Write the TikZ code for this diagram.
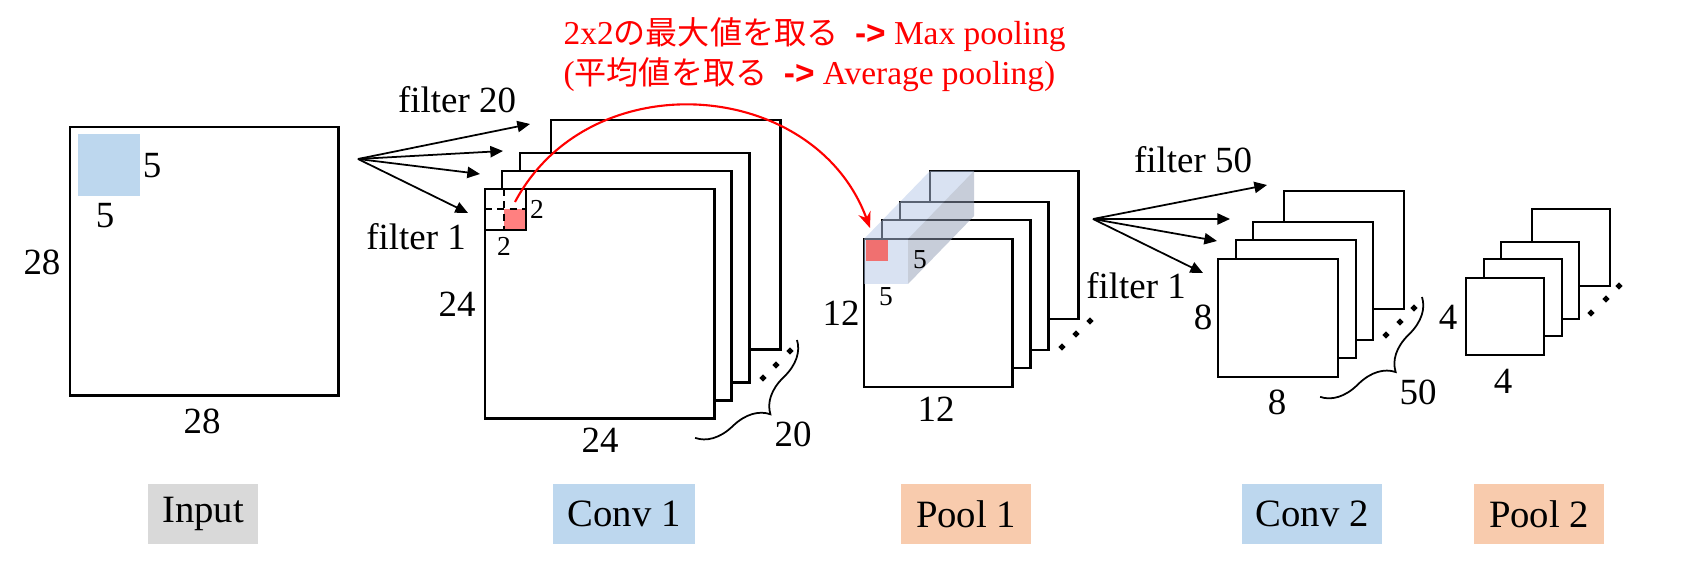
\documentclass[tikz,border=0pt]{standalone}
\usepackage{fontspec}
\setmainfont{Liberation Serif}
\newfontfamily\jpfont{Noto Sans CJK JP}[Scale=0.96]
\newfontfamily\arialfont{Liberation Sans}
\usetikzlibrary{arrows.meta,decorations.pathreplacing}
\definecolor{winblue}{RGB}{189,215,238}
\definecolor{poolorange}{RGB}{248,203,173}
\definecolor{inputgray}{RGB}{217,217,217}
\definecolor{maxred}{RGB}{255,128,128}
\definecolor{poolred}{RGB}{240,112,112}
\definecolor{cubeface}{RGB}{181,199,231}
\definecolor{cubeside}{RGB}{145,157,181}

\begin{document}
\begin{tikzpicture}[x=0.01cm,y=-0.01cm,>={Triangle[length=3.6pt,width=3.2pt]},
	fmap/.style={draw,line width=0.8pt,fill=white,inner sep=0,outer sep=0,anchor=north west},
	lbl/.style={font=\fontsize{10.5}{12}\selectfont,inner sep=1pt},
	slbl/.style={font=\fontsize{7.8}{9}\selectfont,inner sep=1pt},
	seqdot/.style={fill,inner sep=0,minimum size=0.05cm,rotate=45},
	redtxt/.style={red,anchor=base west,inner sep=0,font=\fontsize{9.5}{11}\selectfont},
	layertag/.style={font=\fontsize{11}{13}\selectfont,minimum height=0.59cm,inner sep=0},
	brc/.style={decorate,decoration={brace,amplitude=10pt},line width=0.5pt}]
		\useasboundingbox (0,0) rectangle (1687,561);
		% input
		\node[fmap,minimum size=2.68cm] (in) at (70,127) {};
		\fill[winblue] (78,134) rectangle (140,196);
		\node[lbl] (inl) at (42,262) {28};
		\node[lbl] (inb) at (202,421) {28};
		\node[lbl] (winr) at (152,166) {5};
		\node[lbl] (winb) at (105,216) {5};
		% conv 1
		\coordinate (src1) at (358,159);
		\coordinate (t1a) at (468,213);
		\coordinate (t1b) at (480,174);
		\coordinate (t1c) at (503,151);
		\coordinate (t1d) at (530,124);
		\path[->,line width=0.5pt]
		(src1) edge (t1a) edge (t1b) edge (t1c) edge (t1d);
		\node[fmap,minimum size=2.29cm] (c1d) at (551,120) {};
		\node[fmap,minimum size=2.29cm] (c1c) at (520,153) {};
		\node[fmap,minimum size=2.29cm] (c1b) at (502,171) {};
		\node[fmap,minimum size=2.29cm] (c1a) at (485,189) {};
		\fill[maxred] (504,209) rectangle (526,230);
		\draw[line width=0.5pt,dash pattern=on 2pt off 1.5pt] (485,209) -- (526,209) (504,189) -- (504,230);
		\draw[line width=0.6pt] (485,189) rectangle (526,230);
		\node[lbl] (f20) at (457,100) {filter 20};
		\node[lbl] (f1) at (416,237) {filter 1};
		\node[slbl] (c1wr) at (537,209) {2};
		\node[slbl] (c1wb) at (504,246) {2};
		\node[lbl] (c1l) at (457,304) {24};
		\node[lbl] (c1bt) at (600,440) {24};
		\node[seqdot] (c1p1) at (763,378) {};
		\node[seqdot] (c1p2) at (776,365) {};
		\node[seqdot] (c1p3) at (790,351) {};
		\draw[brc] (797,340) -- (695,438);
		\node[lbl] (c1n) at (793,434) {20};
		% pool 1
		\node[fmap,minimum size=1.48cm] (p1d) at (930,171) {};
		\node[fmap,minimum size=1.48cm] (p1c) at (900,202) {};
		\node[fmap,minimum size=1.48cm] (p1b) at (882,220) {};
		\node[fmap,minimum size=1.48cm] (p1a) at (864,239) {};
		\fill[cubeface,fill opacity=0.5] (864,239) -- (908,239) -- (974,171) -- (930,171) -- cycle;
		\fill[cubeside,fill opacity=0.5] (908,239) -- (908,284) -- (974,216) -- (974,171) -- cycle;
		\fill[cubeface,fill opacity=0.5] (864,239) rectangle (908,284);
		\fill[poolred] (866,240) rectangle (888,261);
		\node[slbl] (p1wr) at (920,260) {5};
		\node[slbl] (p1wb) at (886,297) {5};
		\node[lbl] (p1l) at (841,313) {12};
		\node[lbl] (p1bt) at (936,409) {12};
		\node[seqdot] (p1p1) at (1062,347) {};
		\node[seqdot] (p1p2) at (1076,334) {};
		\node[seqdot] (p1p3) at (1090,321) {};
		% max pooling
		\coordinate (rs) at (515,202);
		\coordinate (re) at (870,228);
		\draw[red,line width=0.6pt,-{Stealth[length=4.5pt,width=3.6pt]}] (rs) .. controls (590,61) and (815,78) .. (re);
		\node[redtxt] (mx) at (563,45) {2x2{\jpfont の最大値を取る}\ \ {\arialfont\bfseries ->} Max pooling};
		\node[redtxt] (av) at (563,85) {({\jpfont 平均値を取る}\ \ {\arialfont\bfseries ->} Average pooling)};
		% conv 2
		\coordinate (src2) at (1093,219);
		\coordinate (t2a) at (1203,273);
		\coordinate (t2b) at (1217,241);
		\coordinate (t2c) at (1230,219);
		\coordinate (t2d) at (1267,185);
		\path[->,line width=0.5pt]
		(src2) edge (t2a) edge (t2b) edge (t2c) edge (t2d);
		\node[fmap,minimum width=1.2cm,minimum height=1.18cm] (c2d) at (1284,191) {};
		\node[fmap,minimum width=1.2cm,minimum height=1.18cm] (c2c) at (1253,222) {};
		\node[fmap,minimum width=1.2cm,minimum height=1.18cm] (c2b) at (1236,240) {};
		\node[fmap,minimum width=1.2cm,minimum height=1.18cm] (c2a) at (1218,259) {};
		\node[lbl] (f50) at (1193,160) {filter 50};
		\node[lbl] (f1b) at (1136,286) {filter 1};
		\node[lbl] (c2l) at (1203,317) {8};
		\node[lbl] (c2bt) at (1277,402) {8};
		\node[seqdot] (c2p1) at (1386,335) {};
		\node[seqdot] (c2p2) at (1400,322) {};
		\node[seqdot] (c2p3) at (1414,308) {};
		\draw[brc] (1422,297) -- (1320,397);
		\node[lbl] (c2n) at (1418,392) {50};
		% pool 2
		\node[fmap,minimum width=0.78cm,minimum height=0.77cm] (p2d) at (1532,209) {};
		\node[fmap,minimum width=0.78cm,minimum height=0.77cm] (p2c) at (1501,242) {};
		\node[fmap,minimum width=0.78cm,minimum height=0.77cm] (p2b) at (1484,259) {};
		\node[fmap,minimum width=0.78cm,minimum height=0.77cm] (p2a) at (1466,278) {};
		\node[lbl] (p2l) at (1448,317) {4};
		\node[lbl] (p2bt) at (1503,381) {4};
		\node[seqdot] (p2p1) at (1591,313) {};
		\node[seqdot] (p2p2) at (1606,299) {};
		\node[seqdot] (p2p3) at (1619,286) {};
		% layer names
		\node[layertag,fill=inputgray,minimum width=1.1cm] (tin) at (203,514) {Input};
		\node[layertag,fill=winblue,minimum width=1.41cm] (tc1) at (624,514) {Conv 1};
		\node[layertag,fill=poolorange,minimum width=1.29cm] (tp1) at (966,514) {Pool 1};
		\node[layertag,fill=winblue,minimum width=1.4cm] (tc2) at (1312,514) {Conv 2};
		\node[layertag,fill=poolorange,minimum width=1.29cm] (tp2) at (1539,514) {Pool 2};
\end{tikzpicture}
\end{document}
